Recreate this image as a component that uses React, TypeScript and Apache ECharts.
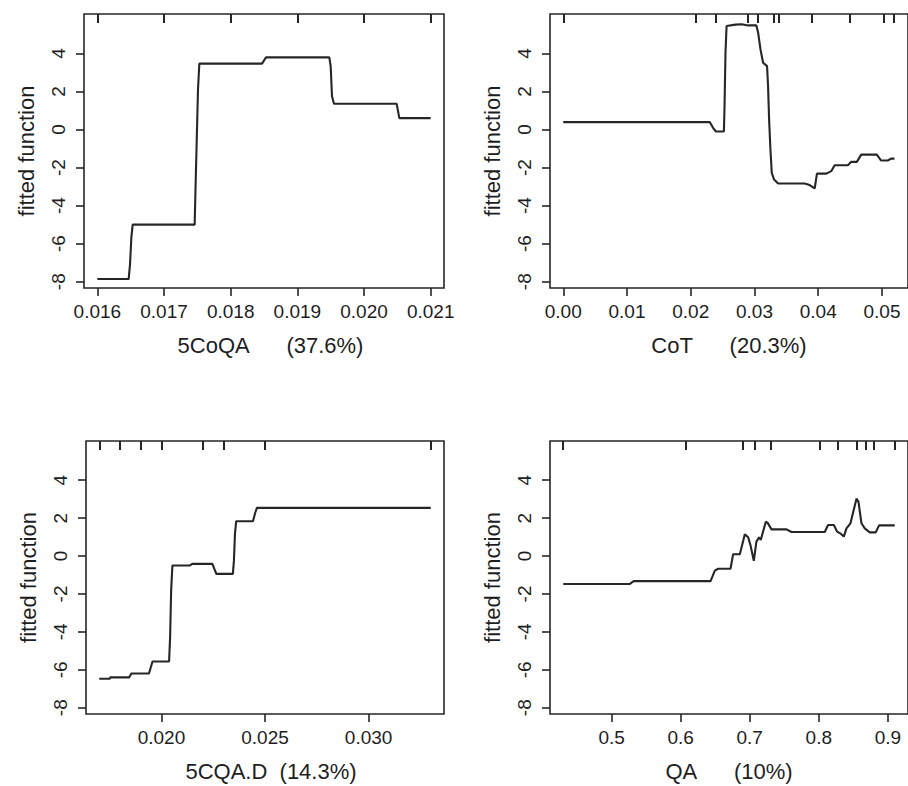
import React, { useEffect, useRef } from "react";
import * as echarts from "echarts";

// ---------- data ----------
const yTicks = [-8, -6, -4, -2, 0, 2, 4];
const yTickLabels = ["-8", "-6", "-4", "-2", "0", "2", "4"];

// Panel 1: 5CoQA
const p1Name = "5CoQA\u00a0\u00a0\u00a0\u00a0\u00a0\u00a0(37.6%)";
const p1XTicks = [0.016, 0.017, 0.018, 0.019, 0.02, 0.021];
const p1XTickLabels = ["0.016", "0.017", "0.018", "0.019", "0.020", "0.021"];
const p1Rug = [0.016, 0.017, 0.018, 0.019, 0.02, 0.021];
const p1X = [0.016, 0.01647, 0.01649, 0.01651, 0.01653, 0.01746, 0.01747, 0.01749, 0.01751, 0.01753, 0.01847, 0.01853, 0.01948, 0.0195, 0.01952, 0.01955, 0.02049, 0.02053, 0.021];
const p1Y = [-7.86, -7.86, -7.1, -5.7, -5.0, -5.0, -3.5, -0.7, 2.1, 3.46, 3.46, 3.79, 3.79, 3.33, 1.75, 1.35, 1.35, 0.6, 0.6];

// Panel 2: CoT
const p2Name = "CoT\u00a0\u00a0\u00a0\u00a0\u00a0\u00a0(20.3%)";
const p2XTicks = [0.0, 0.01, 0.02, 0.03, 0.04, 0.05];
const p2XTickLabels = ["0.00", "0.01", "0.02", "0.03", "0.04", "0.05"];
const p2Rug = [0.0, 0.02077, 0.0239, 0.029, 0.03047, 0.03307, 0.0338, 0.039, 0.04496, 0.0503, 0.05185];
const p2X = [0.0, 0.023, 0.0235, 0.02394, 0.0252, 0.0253, 0.02545, 0.02562, 0.027, 0.028, 0.029, 0.0303, 0.03057, 0.03094, 0.03135, 0.03197, 0.03213, 0.03229, 0.0325, 0.03271, 0.03307, 0.0337, 0.03787, 0.03865, 0.03944, 0.0398, 0.04126, 0.04204, 0.04257, 0.04465, 0.04518, 0.04606, 0.04674, 0.04919, 0.04987, 0.0509, 0.05143, 0.05196];
const p2Y = [0.385, 0.385, 0.09, -0.105, -0.105, 1.23, 4.03, 5.44, 5.51, 5.53, 5.47, 5.47, 5.09, 4.21, 3.51, 3.33, 2.28, 0.53, -1.05, -2.28, -2.63, -2.84, -2.84, -2.92, -3.1, -2.32, -2.32, -2.19, -1.88, -1.88, -1.7, -1.7, -1.32, -1.32, -1.63, -1.63, -1.53, -1.53];

// Panel 3: 5CQA.D
const p3Name = "5CQA.D\u00a0\u00a0(14.3%)";
const p3XTicks = [0.02, 0.025, 0.03];
const p3XTickLabels = ["0.020", "0.025", "0.030"];
const p3Rug = [0.017, 0.018, 0.019, 0.02, 0.022, 0.023, 0.025, 0.033];
const p3X = [0.017, 0.01751, 0.01753, 0.01844, 0.01855, 0.0194, 0.01957, 0.02037, 0.02042, 0.02047, 0.02053, 0.02136, 0.02149, 0.02246, 0.02265, 0.02345, 0.0235, 0.02355, 0.02361, 0.02442, 0.02452, 0.02461, 0.033];
const p3Y = [-6.47, -6.47, -6.4, -6.4, -6.19, -6.19, -5.56, -5.56, -4.29, -1.82, -0.5, -0.5, -0.41, -0.41, -0.94, -0.94, -0.24, 1.17, 1.84, 1.84, 2.26, 2.54, 2.54];

// Panel 4: QA
const p4Name = "QA\u00a0\u00a0\u00a0\u00a0\u00a0\u00a0(10%)";
const p4XTicks = [0.5, 0.6, 0.7, 0.8, 0.9];
const p4XTickLabels = ["0.5", "0.6", "0.7", "0.8", "0.9"];
const p4Rug = [0.4291, 0.6075, 0.69, 0.7074, 0.731, 0.8015, 0.827, 0.855, 0.868, 0.8797, 0.91];
const p4X = [0.43, 0.5265, 0.532, 0.6433, 0.6495, 0.6543, 0.6722, 0.676, 0.6857, 0.6929, 0.6977, 0.701, 0.7059, 0.7097, 0.7136, 0.716, 0.7233, 0.726, 0.7315, 0.7533, 0.7605, 0.8087, 0.8135, 0.8218, 0.8266, 0.831, 0.8362, 0.8401, 0.8459, 0.8546, 0.8575, 0.8618, 0.8666, 0.8738, 0.8825, 0.8873, 0.91];
const p4Y = [-1.47, -1.47, -1.32, -1.32, -0.77, -0.67, -0.67, 0.1, 0.1, 1.15, 0.99, 0.59, -0.25, 0.76, 0.99, 0.85, 1.81, 1.75, 1.41, 1.41, 1.27, 1.27, 1.64, 1.64, 1.29, 1.2, 1.03, 1.46, 1.73, 3.03, 2.86, 1.73, 1.46, 1.25, 1.25, 1.62, 1.62];

const xRanges = [
  [0.0158, 0.0212],
  [-0.00208, 0.05408],
  [0.01636, 0.03364],
  [0.4108, 0.9292],
];
const yRange = [-8.33, 6.07];

const FONT = "'Liberation Sans', Arial, Helvetica, sans-serif";
const INK = "#262626";
const TEXT = "#1e1e1e";

export default function App() {
  const ref = useRef<HTMLDivElement>(null);

  useEffect(() => {
    if (!ref.current) return;
    const chart = echarts.init(ref.current, undefined, { renderer: "svg" });

    const panels = [
      { name: p1Name, ticks: p1XTicks, labels: p1XTickLabels, rug: p1Rug, x: p1X, y: p1Y, pad: 13 },
      { name: p2Name, ticks: p2XTicks, labels: p2XTickLabels, rug: p2Rug, x: p2X, y: p2Y, pad: 0 },
      { name: p3Name, ticks: p3XTicks, labels: p3XTickLabels, rug: p3Rug, x: p3X, y: p3Y, pad: 12 },
      { name: p4Name, ticks: p4XTicks, labels: p4XTickLabels, rug: p4Rug, x: p4X, y: p4Y, pad: 0 },
    ];

    const grids = [
      { left: 84, top: 14, width: 360, height: 274 },
      { left: 550, top: 14, width: 358, height: 274 },
      { left: 86, top: 441, width: 358, height: 273 },
      { left: 550, top: 441, width: 358, height: 273 },
    ].map((g) => ({
      ...g,
      show: true,
      borderColor: INK,
      borderWidth: 1.6,
      backgroundColor: "transparent",
      containLabel: false,
      outerBoundsMode: "none",
    }));

    const xAxis: any[] = [];
    const yAxis: any[] = [];
    const series: any[] = [];

    panels.forEach((p, i) => {
      const [xmin, xmax] = xRanges[i];
      // bottom axis
      xAxis.push({
        type: "value",
        gridIndex: i,
        position: "bottom",
        min: xmin,
        max: xmax,
        name: p.name,
        nameLocation: "middle",
        nameGap: 46,
        nameTextStyle: {
          fontFamily: FONT,
          fontSize: 22,
          color: TEXT,
          padding: [0, 0, 0, p.pad],
        },
        axisLine: { show: false, onZero: false },
        splitLine: { show: false },
        axisTick: {
          show: true,
          inside: false,
          length: 8,
          customValues: p.ticks,
          lineStyle: { color: INK, width: 1.6 },
        },
        axisLabel: {
          show: true,
          margin: 14,
          customValues: p.ticks,
          fontFamily: FONT,
          fontSize: 19,
          color: TEXT,
          formatter: (v: number) => {
            const k = p.ticks.findIndex((t) => Math.abs(t - v) < 1e-9);
            return k >= 0 ? p.labels[k] : "";
          },
        },
      });
      // top rug axis
      xAxis.push({
        type: "value",
        gridIndex: i,
        position: "top",
        min: xmin,
        max: xmax,
        axisLine: { show: false, onZero: false },
        splitLine: { show: false },
        axisLabel: { show: false },
        axisTick: {
          show: true,
          inside: true,
          length: 9,
          customValues: p.rug,
          lineStyle: { color: INK, width: 2 },
        },
      });
      yAxis.push({
        type: "value",
        gridIndex: i,
        position: "left",
        min: yRange[0],
        max: yRange[1],
        name: "fitted function",
        nameLocation: "middle",
        nameGap: 47,
        nameTextStyle: { fontFamily: FONT, fontSize: 22, color: TEXT },
        axisLine: { show: false, onZero: false },
        splitLine: { show: false },
        axisTick: {
          show: true,
          inside: false,
          length: 8,
          customValues: yTicks,
          lineStyle: { color: INK, width: 1.6 },
        },
        axisLabel: {
          show: true,
          rotate: 90,
          margin: 16,
          customValues: yTicks,
          fontFamily: FONT,
          fontSize: 19,
          color: TEXT,
          formatter: (v: number) => {
            const k = yTicks.findIndex((t) => Math.abs(t - v) < 1e-9);
            return k >= 0 ? yTickLabels[k] : "";
          },
        },
      });
      series.push({
        type: "line",
        xAxisIndex: i * 2,
        yAxisIndex: i,
        showSymbol: false,
        symbol: "none",
        silent: true,
        lineStyle: { color: INK, width: 2.1 },
        data: p.x.map((xv, j) => [xv, p.y[j]]),
      });
    });

    chart.setOption({
      animation: false,
      backgroundColor: "#ffffff",
      textStyle: { fontFamily: FONT },
      grid: grids,
      xAxis,
      yAxis,
      series,
    });

    return () => chart.dispose();
  }, []);

  return (
    <div
      ref={ref}
      style={{ position: "fixed", left: 0, top: 0, width: 908, height: 786, background: "#fff" }}
    />
  );
}
